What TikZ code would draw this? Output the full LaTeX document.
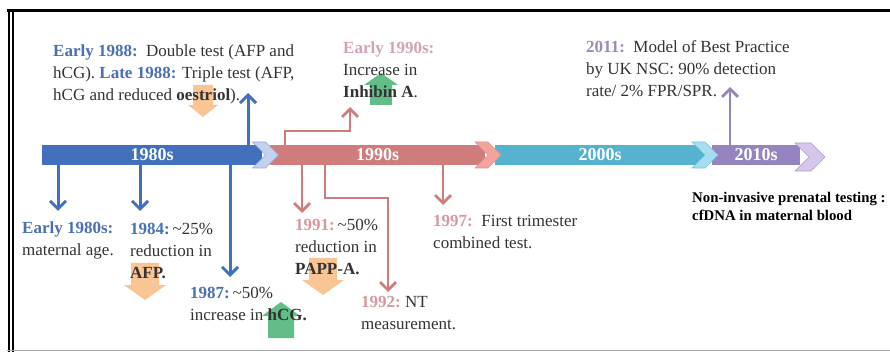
\documentclass[tikz,border=0pt]{standalone}
\usepackage{fontspec}
\setmainfont{Liberation Serif}
\usepackage{tikz}
\usetikzlibrary{arrows.meta,positioning,shapes.symbols}
\definecolor{EraBlue}{HTML}{4270BD}
\definecolor{EraRose}{HTML}{CF7C7C}
\definecolor{EraCyan}{HTML}{55B3D0}
\definecolor{EraPurple}{HTML}{9684C1}
\definecolor{ChevBlue}{HTML}{C3D2EE}
\definecolor{ChevRose}{HTML}{F3A29C}
\definecolor{ChevCyan}{HTML}{A6DDF0}
\definecolor{ChevPurple}{HTML}{D5C7EA}
\definecolor{LabBlue}{HTML}{4A6FB3}
\definecolor{LabRose}{HTML}{D9969C}
\definecolor{LabMauve}{HTML}{D2A2B8}
\definecolor{LabPurple}{HTML}{9B89C0}
\definecolor{NoteGray}{HTML}{333333}
\definecolor{UpGreen}{HTML}{47B173}
\definecolor{DownOrange}{HTML}{F7B67A}
\tikzset{
  era/.style={rectangle,anchor=west,minimum height=20pt,inner sep=0pt,text=white,font=\fontsize{18}{20}\selectfont\bfseries},
  chevron/.style={signal,signal to=east,signal from=west,minimum width=25pt,minimum height=26pt,inner sep=0pt},
  note/.style={anchor=base west,align=left,inner sep=0pt,text=NoteGray,font=\fontsize{17}{22}\selectfont},
  bignote/.style={anchor=base west,align=left,inner sep=0pt,text=black,font=\fontsize{14.8}{18}\selectfont\bfseries},
  upblock/.style={fill=UpGreen,opacity=0.85},
  downblock/.style={fill=DownOrange,opacity=0.8},
  arrowb/.style={-{Straight Barb[length=8pt,width=16pt]},line width=3pt,color=EraBlue},
  arrowr/.style={-{Straight Barb[length=8pt,width=16pt]},line width=2.8pt,color=EraRose},
  arrowp/.style={-{Straight Barb[length=8pt,width=16pt]},line width=2.8pt,color=EraPurple},
}
\begin{document}
\begin{tikzpicture}[x=1pt,y=-1pt]
  \useasboundingbox (0,0) rectangle (890,352);
  % frame
  \draw[line width=3pt] (7,11) -- (890,11);
  \draw[line width=2pt] (8.5,10) -- (8.5,352);
  \draw[line width=2pt] (12.5,12) -- (12.5,352);
  \draw[black!35,line width=1.5pt] (7,350.5) -- (890,350.5);

  % timeline bar
  \node[era,fill=EraBlue,minimum width=220pt] (bar80) at (42,155) {1980s};
  \node[era,fill=EraRose,minimum width=215pt] (bar90) at (270,155) {1990s};
  \node[era,fill=EraCyan,minimum width=210pt] (bar00) at (495,155) {2000s};
  \node[era,fill=EraPurple,minimum width=88pt] (bar10) at (712,155) {2010s};
  \node[chevron,fill=ChevBlue,draw=EraBlue!60,line width=0.6pt] (ch80) at (265.5,155) {};
  \node[chevron,fill=ChevRose,draw=EraRose!80,line width=0.6pt] (ch90) at (488,155) {};
  \node[chevron,fill=ChevCyan,draw=EraCyan!80,line width=0.6pt] (ch00) at (705,155) {};
  \node[chevron,fill=ChevPurple,draw=EraPurple!80,line width=0.6pt,minimum width=30pt,minimum height=28pt] (ch10) at (810,157) {};

  % block arrows behind the text
  \fill[downblock] (193,85) -- (213,85) -- (213,105) -- (218,105) -- (203,117) -- (188,105) -- (193,105) -- cycle;
  \fill[downblock] (131,263) -- (159,263) -- (159,285) -- (166,285) -- (145,300) -- (124,285) -- (131,285) -- cycle;
  \fill[downblock] (309,258) -- (337,258) -- (337,280) -- (344,280) -- (323,295) -- (302,280) -- (309,280) -- cycle;
  \fill[upblock] (268,338) -- (294,338) -- (294,316) -- (300,316) -- (281,302) -- (262,316) -- (268,316) -- cycle;
  \fill[upblock] (370,105) -- (392,105) -- (392,85) -- (398,85) -- (381,73) -- (364,85) -- (370,85) -- cycle;

  % events above the bar
  \node[note] (n88) at (53,101) {\textcolor{LabBlue}{\bfseries Early 1988:}\ \ Double test (AFP and\\hCG). \textcolor{LabBlue}{\bfseries Late 1988:} Triple test (AFP,\\hCG and reduced \textbf{oestriol}).};
  \node[note] (n90) at (343,98) {\textcolor{LabMauve}{\bfseries Early 1990s:}\\Increase in\\\textbf{Inhibin A}.};
  \node[note] (n11) at (586,97) {\textcolor{LabPurple}{\bfseries 2011:}\ \ Model of Best Practice\\by UK NSC: 90\% detection\\rate/ 2\% FPR/SPR.};

  % events below the bar
  \node[note] (n80) at (22,256) {\textcolor{LabBlue}{\bfseries Early 1980s:}\\maternal age.};
  \node[note] (n84) at (130,279) {\textcolor{LabBlue}{\bfseries 1984:}\,\textasciitilde25\%\\reduction in\\\textbf{AFP.}};
  \node[note] (n87) at (190,320) {\textcolor{LabBlue}{\bfseries 1987:}\,\textasciitilde50\%\\increase in \textbf{hCG.}};
  \node[note] (n91) at (295,275) {\textcolor{LabRose}{\bfseries 1991:}\,\textasciitilde50\%\\reduction in\\\textbf{PAPP-A.}};
  \node[note] (n92) at (361,329) {\textcolor{LabRose}{\bfseries 1992:}\ NT\\measurement.};
  \node[note] (n97) at (433,249) {\textcolor{LabRose}{\bfseries 1997:}\ \ First trimester\\combined test.};
  \node[bignote] (nipt) at (692,221) {Non-invasive prenatal testing :\\cfDNA in maternal blood};

  % arrow ends
  \coordinate (t88) at (248,93);
  \coordinate (t80) at (58,211);
  \coordinate (t84) at (140,211);
  \coordinate (t87) at (230,277);
  \coordinate (k90) at (285,131);
  \coordinate (t90) at (350,107);
  \coordinate (t91) at (302,213);
  \coordinate (k92) at (325,198);
  \coordinate (t92) at (388,292);
  \coordinate (t97) at (443,205);
  \coordinate (t11) at (730,87);

  % 1980s arrows
  \draw[arrowb] (bar80.north -| t88) -- (t88);
  \draw[arrowb] (bar80.south -| t80) -- (t80);
  \draw[arrowb] (bar80.south -| t84) -- (t84);
  \draw[arrowb] (bar80.south -| t87) -- (t87);

  % 1990s arrows
  \draw[arrowr] (bar90.north -| k90) -- (k90) -| (t90);
  \draw[arrowr] (bar90.south -| t91) -- (t91);
  \draw[arrowr] (bar90.south -| k92) -- (k92) -| (t92);
  \draw[arrowr] (bar90.south -| t97) -- (t97);

  % 2010s arrow
  \draw[arrowp] (bar10.north -| t11) -- (t11);

\end{tikzpicture}
\end{document}
